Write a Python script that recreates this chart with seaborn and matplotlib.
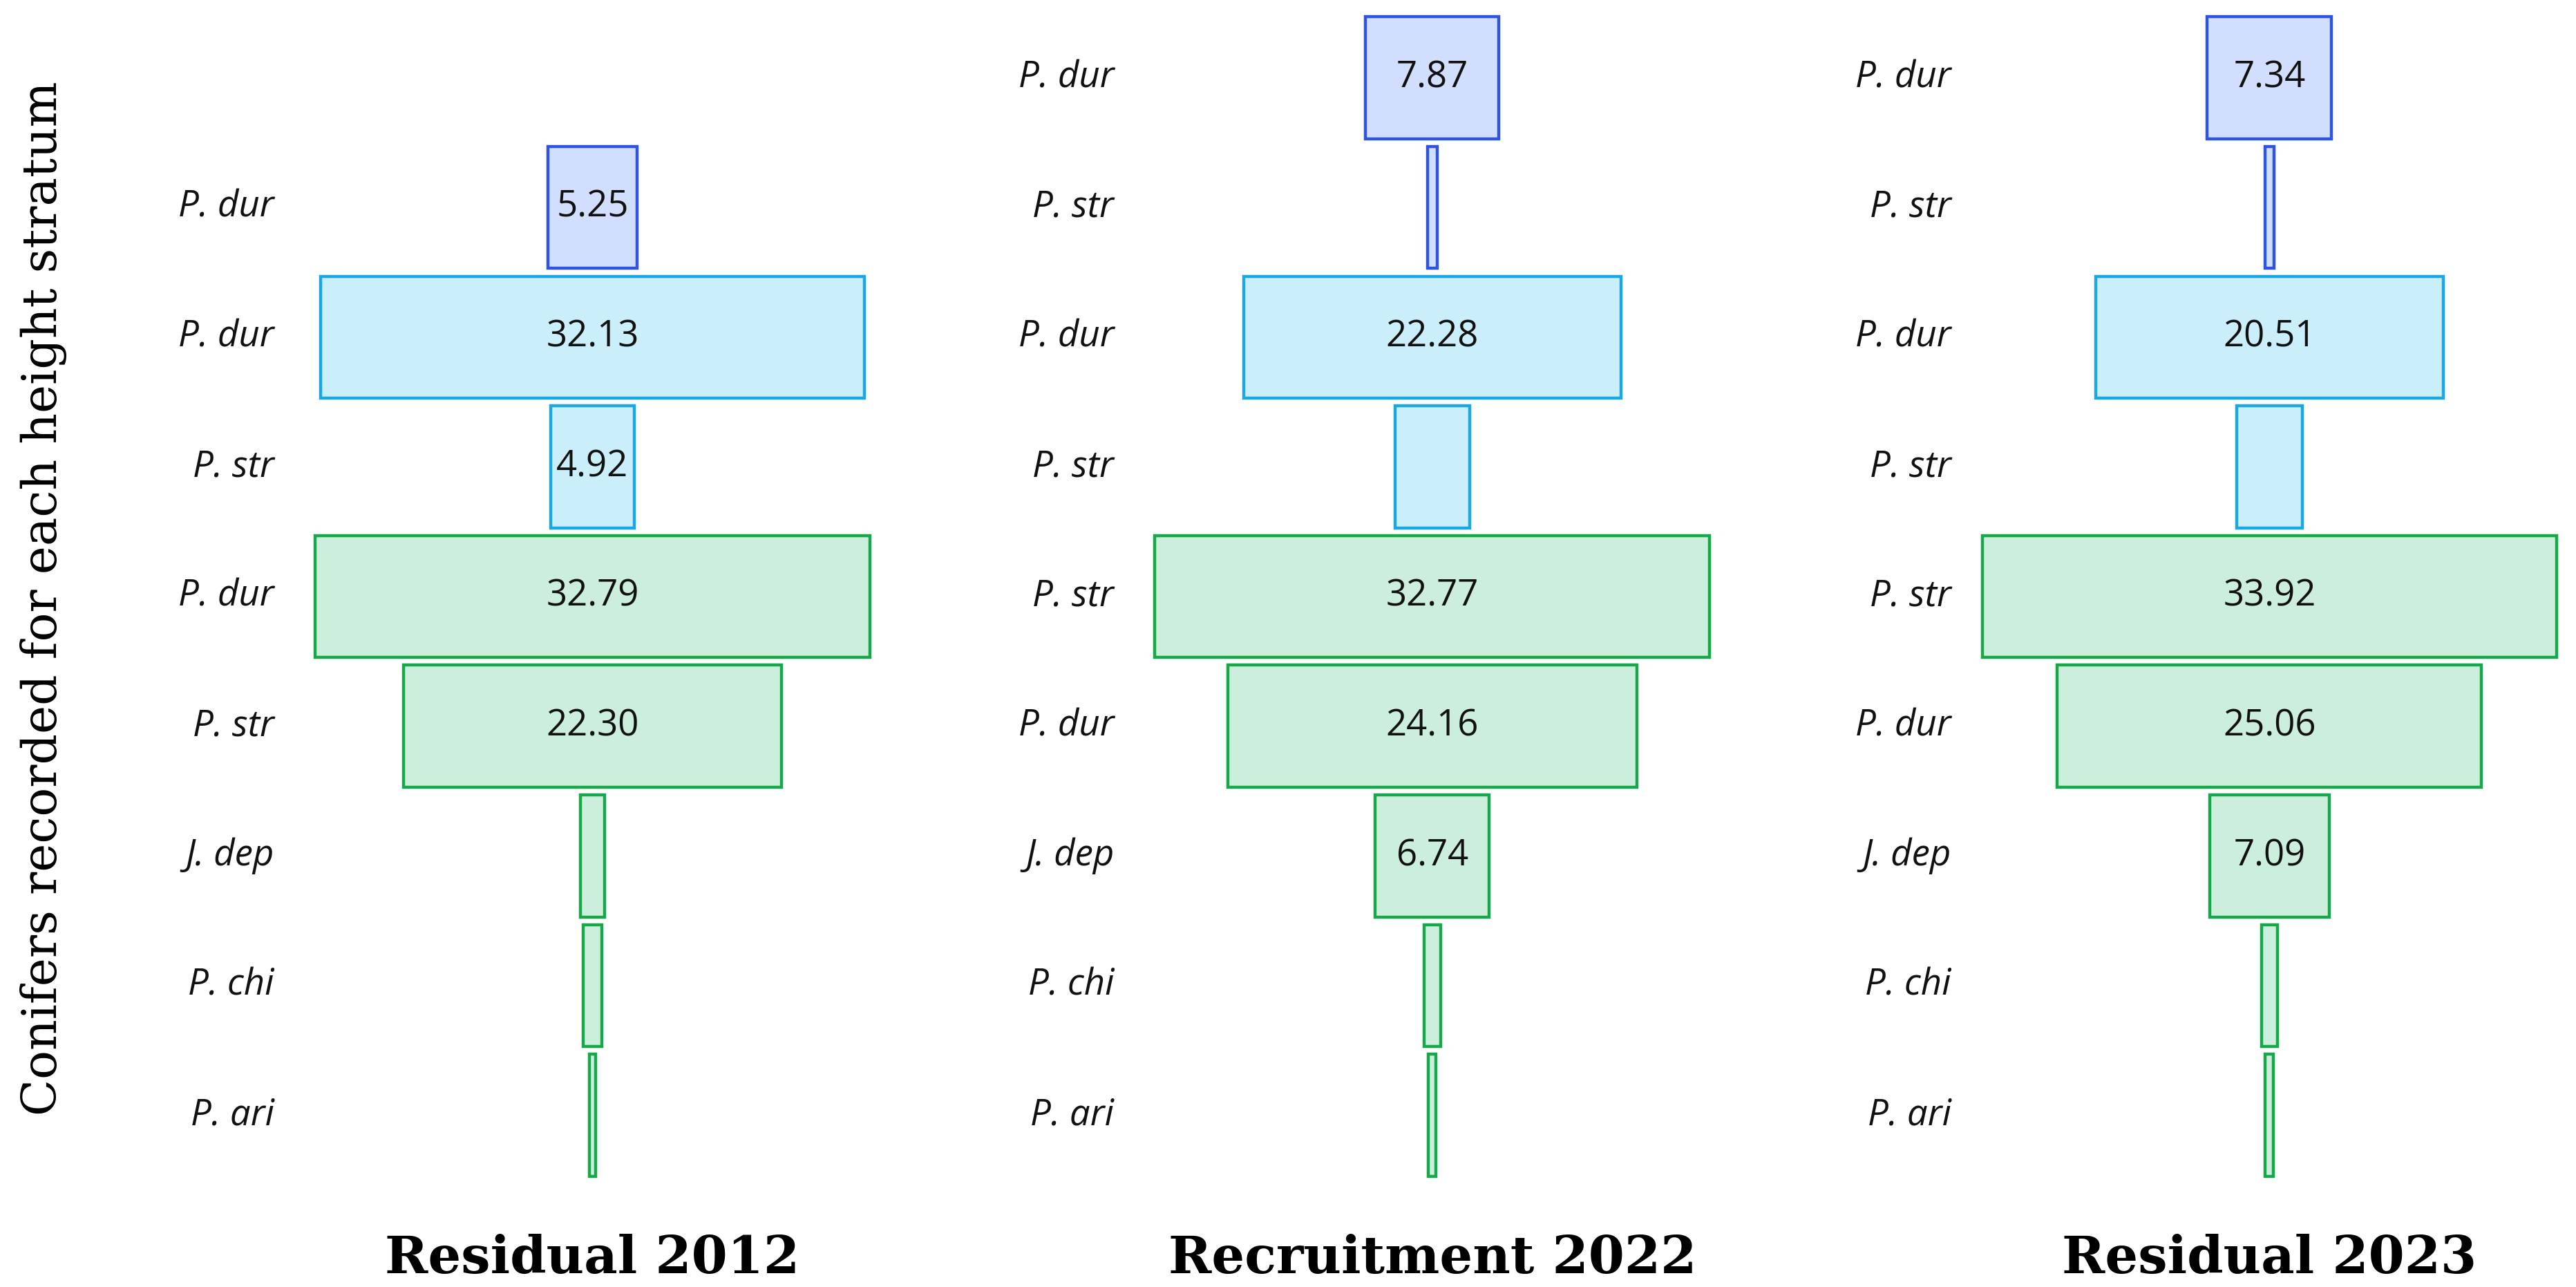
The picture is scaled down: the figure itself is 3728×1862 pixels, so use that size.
import matplotlib
matplotlib.use("Agg")
import matplotlib.pyplot as plt
import seaborn as sns
import pandas as pd

# rows from top (row 0) to bottom; None = no bar
species_2012 = [None, "P. dur", "P. dur", "P. str", "P. dur", "P. str", "J. dep", "P. chi", "P. ari"]
values_2012 = [0, 5.25, 32.13, 4.92, 32.79, 22.30, 1.4, 1.1, 0.4]
labels_2012 = ["", "5.25", "32.13", "4.92", "32.79", "22.30", "", "", ""]

species_2022 = ["P. dur", "P. str", "P. dur", "P. str", "P. str", "P. dur", "J. dep", "P. chi", "P. ari"]
values_2022 = [7.87, 0.55, 22.28, 4.4, 32.77, 24.16, 6.74, 1.0, 0.45]
labels_2022 = ["7.87", "", "22.28", "", "32.77", "24.16", "6.74", "", ""]

species_2023 = ["P. dur", "P. str", "P. dur", "P. str", "P. str", "P. dur", "J. dep", "P. chi", "P. ari"]
values_2023 = [7.34, 0.55, 20.51, 3.9, 33.92, 25.06, 7.09, 0.95, 0.5]
labels_2023 = ["7.34", "", "20.51", "", "33.92", "25.06", "7.09", "", ""]

groups = ["top", "top", "mid", "mid", "low", "low", "low", "low", "low"]
titles = ["Residual 2012", "Recruitment 2022", "Residual 2023"]

fills = {"top": "#d2defd", "mid": "#cbeffa", "low": "#cbefdc"}
edges = {"top": "#2f55e0", "mid": "#1aa8e3", "low": "#17a84a"}

panels = [(species_2012, values_2012, labels_2012),
          (species_2022, values_2022, labels_2022),
          (species_2023, values_2023, labels_2023)]
centers = [0.230, 0.556, 0.881]

sns.set_theme(style="white")
fig = plt.figure(figsize=(18.64, 9.31), dpi=200)
half = 0.113

for (sp, vals, labs), cx, title in zip(panels, centers, titles):
    ax = fig.add_axes([cx - half, 0.083, 2 * half, 0.907])
    df = pd.DataFrame({"row": [str(i) for i in range(9)], "value": vals, "grp": groups})
    sns.barplot(data=df, x="value", y="row", hue="grp", palette=fills, dodge=False,
                saturation=1, width=0.94, legend=False, ax=ax, linewidth=1.6,
                order=df["row"])
    # centre each bar on zero and colour its outline
    for p in ax.patches:
        w = p.get_width()
        if w <= 0:
            p.set_visible(False)
            continue
        i = int(round(p.get_y() + p.get_height() / 2))
        p.set_x(-w / 2)
        p.set_edgecolor(edges[groups[i]])
    for i, (s, lab) in enumerate(zip(sp, labs)):
        if lab:
            ax.text(0, i, lab, ha="center", va="center", fontsize=19,
                    family="Open Sans", color="#111111")
        if s:
            ax.text(-18.8, i, s, ha="right", va="center", fontsize=19,
                    family="Open Sans", style="italic", color="#111111")
    ax.set_xlim(-17.2, 17.2)
    ax.set_ylim(8.5, -0.5)
    ax.axis("off")
    fig.text(cx, 0.022, title, ha="center", va="center", fontsize=27,
             fontweight="bold", family="DejaVu Serif", color="black")

fig.text(0.017, 0.535, "Conifers recorded for each height stratum", rotation=90,
         ha="center", va="center", fontsize=25, family="DejaVu Serif", color="black")

fig.savefig("out.png", dpi=200)
